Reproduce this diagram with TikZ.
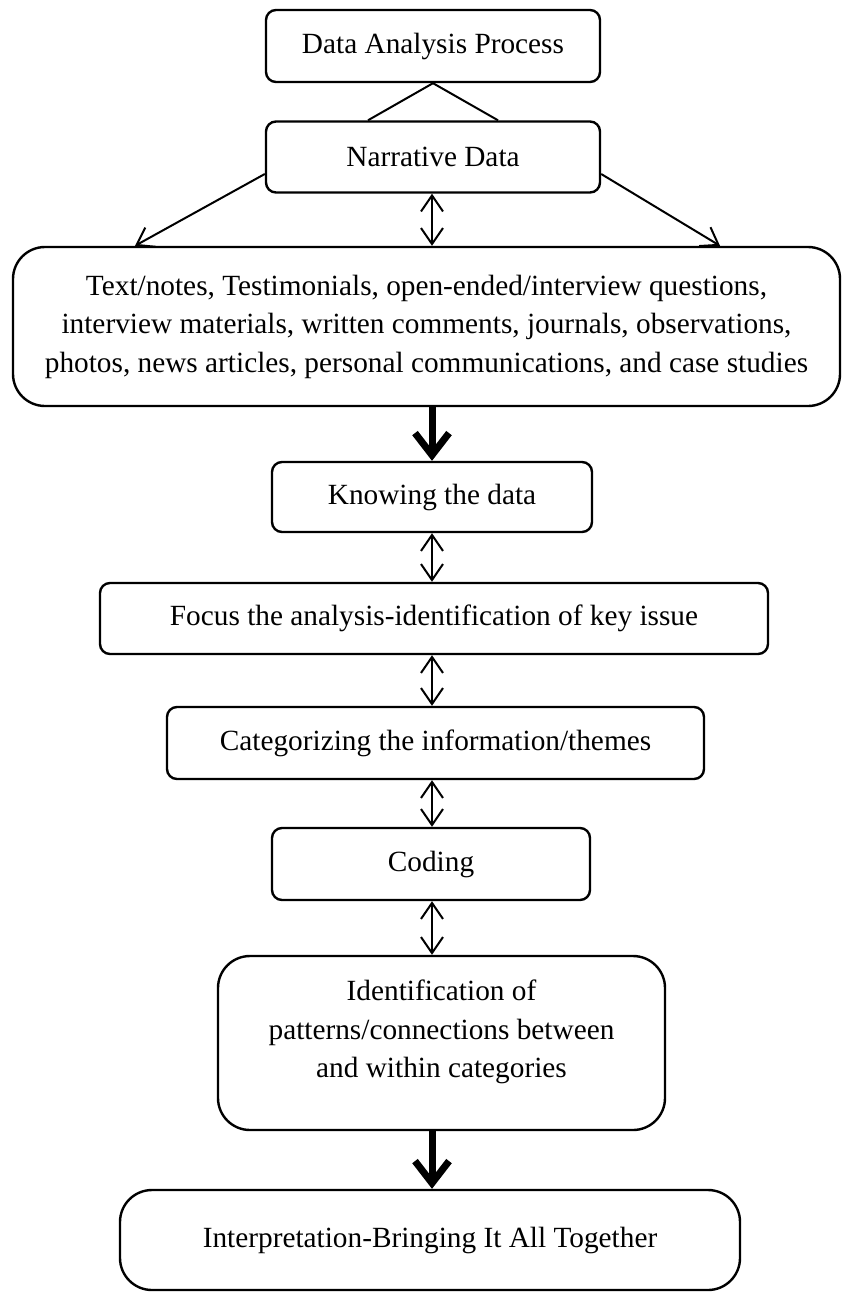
\documentclass[tikz,border=0pt]{standalone}
\usepackage{fontspec}
\setmainfont{Liberation Serif}
\usetikzlibrary{arrows.meta}
\begin{document}
\begin{tikzpicture}[x=1pt,y=-1pt,
  box/.style={draw, line width=2.4pt, rounded corners=10pt, align=center,
    font=\fontsize{29.3}{38.5}\selectfont, inner sep=0pt},
  bigbox/.style={box, rounded corners=32pt},
  lbl/.style={align=center, font=\fontsize{29.3}{38.5}\selectfont, inner sep=0pt},
  dblarrow/.style={line width=2pt,
    {Straight Barb[length=16pt,width=22pt]}-{Straight Barb[length=16pt,width=22pt]}},
  onearrow/.style={line width=2pt, -{Straight Barb[length=16pt,width=22pt]}},
  plainline/.style={line width=2pt},
  fatarrow/.style={line width=7pt, -{Straight Barb[length=22pt,width=34pt]}}
]
\useasboundingbox (0,0) rectangle (843,1292);

\node[box, minimum width=334pt, minimum height=72pt] (dap) at (433,46) {Data Analysis Process};
\node[box, minimum width=334pt, minimum height=71pt] (nd) at (433,157) {Narrative Data};
\node[bigbox, minimum width=827pt, minimum height=159pt] (txt) at (426.5,326.5)
  {Text/notes, Testimonials, open-ended/interview questions,\\
   interview materials, written comments, journals, observations,\\
   photos, news articles, personal communications, and case studies};
\node[box, minimum width=320pt, minimum height=70pt] (know) at (432,497) {Knowing the data};
\node[box, minimum width=668pt, minimum height=71pt] (focus) at (434,618.5) {Focus the analysis-identification of key issue};
\node[box, minimum width=537pt, minimum height=72pt] (cat) at (435.5,743) {Categorizing the information/themes};
\node[box, minimum width=318pt, minimum height=72pt] (cod) at (431,864) {Coding};
\node[bigbox, minimum width=447pt, minimum height=174pt] (idb) at (441.5,1043) {};
\node[lbl, yshift=11pt] (idt) at (idb.center)
  {Identification of\\patterns/connections between\\and within categories};
\node[bigbox, minimum width=620pt, minimum height=100pt] (interp) at (430,1240)
  {Interpretation-Bringing It All Together};

\draw[plainline] (dap.south) -- ([xshift=-65pt]nd.north);
\draw[plainline] (dap.south) -- ([xshift=65pt]nd.north);
\draw[onearrow] ([yshift=-17pt]nd.west) -- ([xshift=-291.5pt]txt.north);
\draw[onearrow] ([yshift=-17pt]nd.east) -- ([xshift=293.5pt]txt.north);
\draw[dblarrow] (know.south |- nd.south) -- (know.south |- txt.north);
\draw[fatarrow] (txt.south -| know.south) -- (know.north);
\draw[dblarrow] (know.south) -- (know.south |- focus.north);
\draw[dblarrow] (know.south |- focus.south) -- (know.south |- cat.north);
\draw[dblarrow] (know.south |- cat.south) -- (know.south |- cod.north);
\draw[dblarrow] (know.south |- cod.south) -- (know.south |- idb.north);
\draw[fatarrow] (know.south |- idb.south) -- (know.south |- interp.north);
\end{tikzpicture}
\end{document}
